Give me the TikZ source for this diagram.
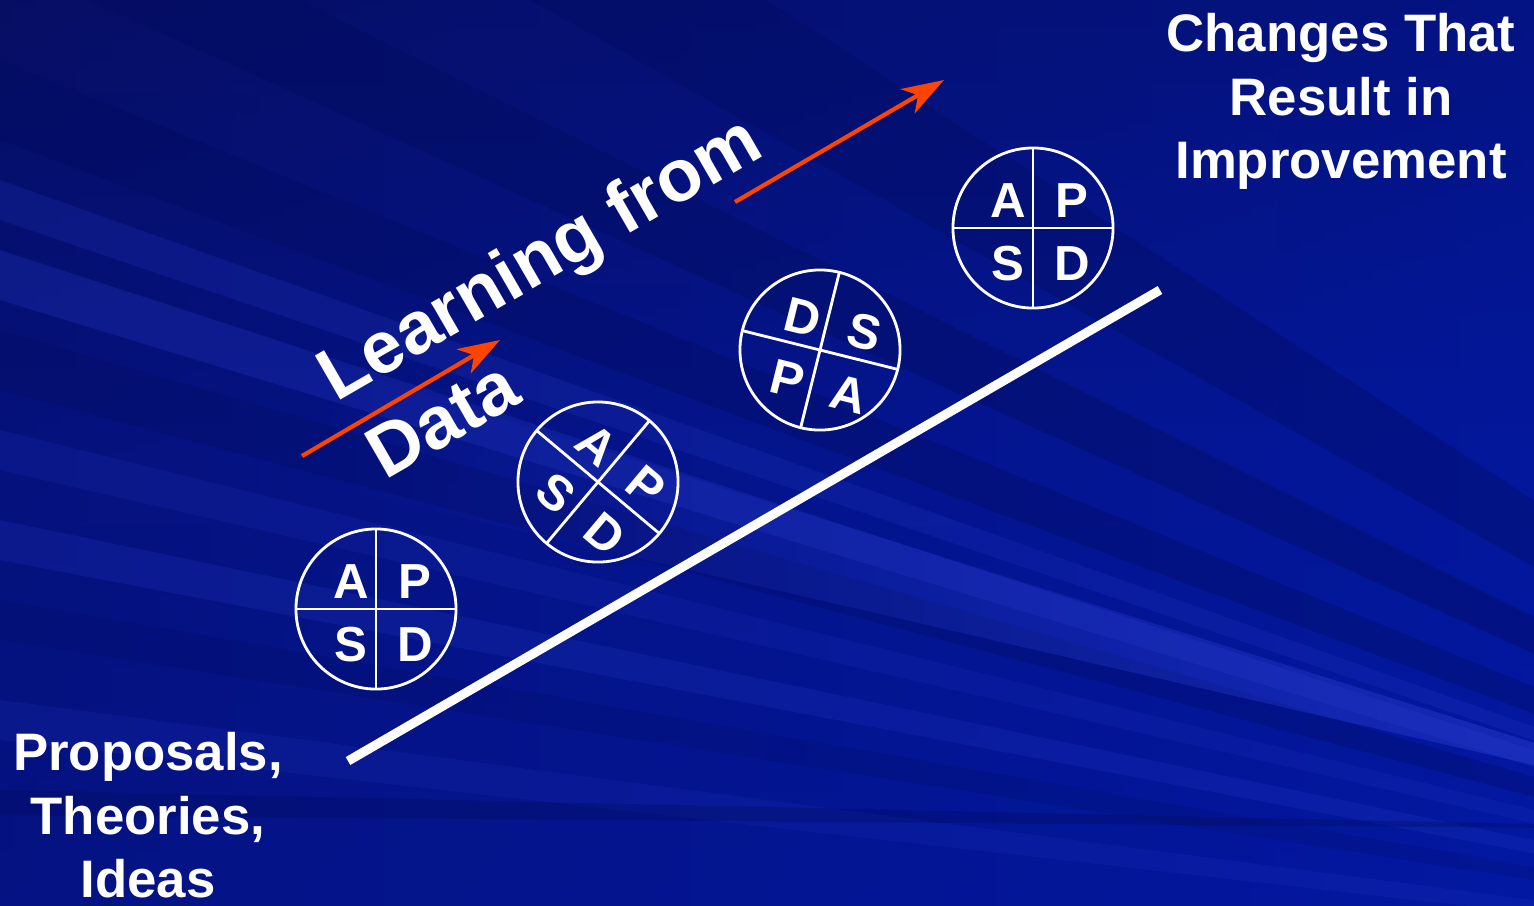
\documentclass[tikz,border=0pt]{standalone}
\usepackage{fontspec}
\setmainfont{Liberation Sans}
\usetikzlibrary{arrows.meta,calc,fadings}

\definecolor{slideblue}{RGB}{3,24,162}
\definecolor{slidedark}{RGB}{6,14,100}
\definecolor{raylight}{RGB}{40,60,205}
\definecolor{raydark}{RGB}{2,12,95}
\definecolor{rayorange}{RGB}{255,68,0}

\tikzfading[name=fadeleft, left color=transparent!100, right color=transparent!0]

\tikzset{
  pdsaring/.style={circle, draw=white, line width=0.8pt, minimum size=1.6cm, inner sep=0pt},
  pdsaline/.style={white, line width=0.8pt},
  pdsaletter/.style={text=white, font=\fontsize{14}{14}\selectfont\bfseries, inner sep=0pt},
  slidetext/.style={text=white, font=\fontsize{15}{18}\selectfont\bfseries, align=center, inner sep=0pt},
  learntext/.style={text=white, font=\fontsize{21}{26}\selectfont\bfseries, rotate=30, anchor=base west, inner sep=0pt},
  orangearrow/.style={rayorange, line width=1.2pt, -{Stealth[length=0.42cm, width=0.28cm, inset=0.12cm]}},
}

% one PDSA wheel: name, centre, turn angle, letters TL TR BL BR
\newcommand{\pdsa}[7]{%
  \node[pdsaring] (#1) at (#2) {};
  \draw[pdsaline] ($(#1)+(#3:80)$) -- ($(#1)+(#3+180:80)$);
  \draw[pdsaline] ($(#1)+(#3+90:80)$) -- ($(#1)+(#3+270:80)$);
  \node[pdsaletter, rotate=#3] (#1-tl) at ($(#1)+(#3+135:45)+(#3:7)+(#3-90:4)$) {#4};
  \node[pdsaletter, rotate=#3] (#1-tr) at ($(#1)+(#3+45:45)+(#3:7)+(#3-90:4)$) {#5};
  \node[pdsaletter, rotate=#3] (#1-bl) at ($(#1)+(#3+225:45)+(#3:7)+(#3-90:4)$) {#6};
  \node[pdsaletter, rotate=#3] (#1-br) at ($(#1)+(#3+315:45)+(#3:7)+(#3-90:4)$) {#7};
}

\begin{document}
\begin{tikzpicture}[x=0.01cm, y=0.01cm]
  \useasboundingbox (0,0) rectangle (1534,-905);

  % background with rays
  \begin{scope}
    \clip (0,0) rectangle (1534,-905);
    \shade[top color=slidedark, bottom color=slideblue, middle color=slideblue!80!slidedark] (0,0) rectangle (1534,-905);
    \shade[left color=slidedark, right color=slideblue, opacity=0.5] (0,0) rectangle (1534,-905);
    \foreach \ya/\yb/\col/\op in {-500/-300/raydark/0.35, -150/-40/raydark/0.4, 60/140/raydark/0.35,
        180/220/raylight/0.2, 250/300/raylight/0.25, 330/390/raydark/0.3, 430/470/raylight/0.15,
        520/560/raylight/0.2, 600/640/raydark/0.2, 700/740/raylight/0.15}
      \fill[\col, opacity=\op] (2300,-1000) -- (0,-\ya) -- (0,-\yb) -- cycle;
    \fill[raydark, opacity=0.35] (1800,-830) -- (0,-790) -- (0,-815) -- cycle;
    \fill[raylight, opacity=0.6, path fading=fadeleft] (1803,-827) -- (300,-355) -- (300,-480) -- cycle;
  \end{scope}

  % baseline of the ramp
  \coordinate (rampstart) at (348,-761);
  \coordinate (rampend) at (1160,-290);
  \draw[white, line width=2.6pt] (rampstart) -- (rampend);

  % cycles
  \pdsa{c1}{376,-609}{0}{A}{P}{S}{D}
  \pdsa{c2}{598,-482}{-40}{A}{P}{S}{D}
  \pdsa{c3}{820,-350}{-14}{D}{S}{P}{A}
  \pdsa{c4}{1033,-228}{0}{A}{P}{S}{D}

  % learning arrows
  \coordinate (lowtail) at (302,-456);
  \coordinate (lowtip) at (500,-340);
  \coordinate (hightail) at (735,-202);
  \coordinate (hightip) at (944,-80);
  \draw[orangearrow] (lowtail) -- (lowtip);
  \draw[orangearrow] (hightail) -- (hightip);

  \node[learntext] (learn) at (336,-403) {Learning from};
  \node[learntext] (data) at (385,-481) {Data};

  \node[slidetext, anchor=north] (goal) at (1341,-13) {Changes That\\Result in\\Improvement};
  \node[slidetext, anchor=north] (ideas) at (148,-732) {Proposals,\\Theories,\\Ideas};
\end{tikzpicture}
\end{document}
